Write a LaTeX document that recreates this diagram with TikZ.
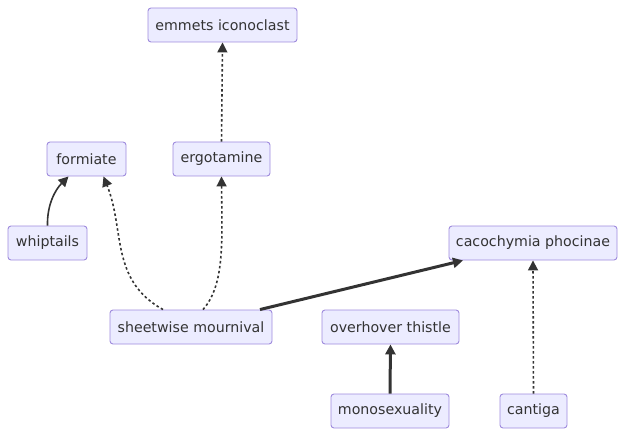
\documentclass[tikz,border=0pt]{standalone}
\usepackage{fontspec}
\setmainfont{DejaVu Sans}
\usetikzlibrary{arrows.meta}
\definecolor{nodefill}{HTML}{ECECFF}
\definecolor{nodeline}{HTML}{9F8BDD}
\definecolor{edgecol}{HTML}{333333}
\begin{document}
\begin{tikzpicture}[x=1pt,y=-1pt,
  box/.style={draw=nodeline,fill=nodefill,rounded corners=3pt,line width=0.9pt,
    minimum height=34pt,inner sep=0pt,font=\fontsize{14.2}{16}\selectfont,text=edgecol},
  edge/.style={draw=edgecol,line width=1.6pt,-{Triangle[length=10pt,width=10pt]}},
  thick edge/.style={edge,line width=3pt},
  dot edge/.style={edge,dash pattern=on 2.5pt off 2.5pt}]
\useasboundingbox (0,0) rectangle (625,436);
\node[box,minimum width=149pt] (emm) at (222.5,25) {emmets iconoclast};
\node[box,minimum width=79pt] (for) at (86.5,159) {formiate};
\node[box,minimum width=97pt] (erg) at (221.5,159) {ergotamine};
\node[box,minimum width=79pt] (whi) at (47.5,243) {whiptails};
\node[box,minimum width=168pt] (cac) at (533,243) {cacochymia phocinae};
\node[box,minimum width=162pt] (she) at (191,327) {sheetwise mournival};
\node[box,minimum width=137pt] (ove) at (390.5,327) {overhover thistle};
\node[box,minimum width=118pt] (mon) at (390,411) {monosexuality};
\node[box,minimum width=67pt] (can) at (533.5,411) {cantiga};
\draw[edge] (whi.north) .. controls (47,205) and (55,190) .. ([xshift=-18pt]for.south);
\draw[dot edge] ([xshift=-28pt]she.north) .. controls (110,280) and (125,230) .. ([xshift=17pt]for.south);
\draw[dot edge] ([xshift=12pt]she.north) .. controls (225,285) and (222,240) .. (erg.south);
\draw[dot edge] (erg.north) -- (emm.south);
\draw[thick edge] ([xshift=69pt]she.north) -- ([xshift=-70pt]cac.south);
\draw[thick edge] (mon.north) -- (ove.south);
\draw[dot edge] (can.north) -- (cac.south);
\end{tikzpicture}
\end{document}
